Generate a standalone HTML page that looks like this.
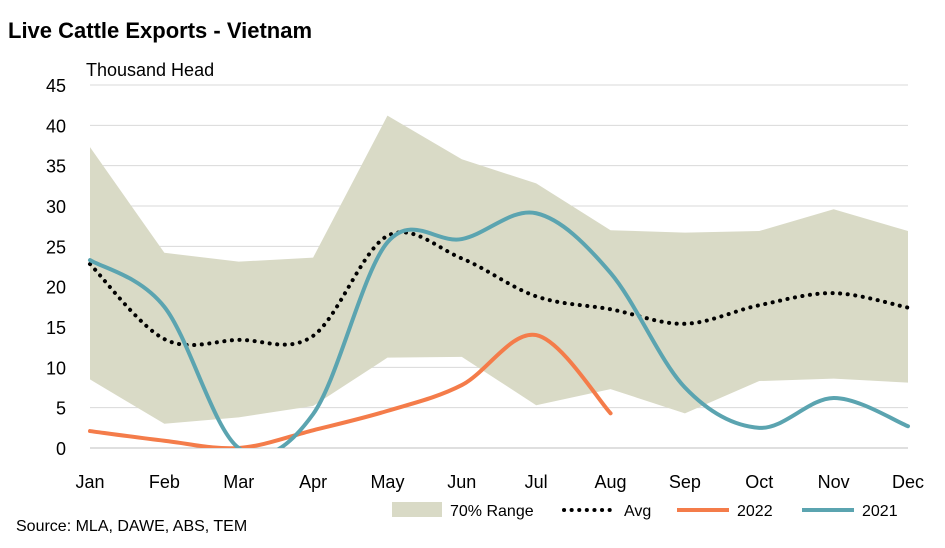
<!DOCTYPE html>
<html><head><meta charset="utf-8"><style>
body{margin:0;background:#fff;font-family:"Liberation Sans",Arial,sans-serif;}
svg text{font-family:"Liberation Sans",Arial,sans-serif;fill:#000;}
</style></head><body>
<svg id="chart" width="945" height="543">
<defs><clipPath id="plotclip"><rect x="60" y="60" width="880" height="388"/></clipPath></defs>
<text x="8" y="38" font-size="22" font-weight="bold">Live Cattle Exports - Vietnam</text>
<text x="86" y="76" font-size="18">Thousand Head</text>
<g id="grid"></g><g id="yticks"></g><g id="xticks"></g>
<g id="series" clip-path="url(#plotclip)"></g>
<text x="16" y="531" font-size="16">Source: MLA, DAWE, ABS, TEM</text>
<g id="legend"></g>
</svg>
<script>
const months=["Jan","Feb","Mar","Apr","May","Jun","Jul","Aug","Sep","Oct","Nov","Dec"];
const yTicks=[0,5,10,15,20,25,30,35,40,45];
const rangeUpper=[37.3,24.2,23.1,23.6,41.2,35.8,32.8,27,26.7,26.9,29.6,26.9];
const rangeLower=[8.5,3,3.8,5.2,11.2,11.3,5.3,7.3,4.3,8.3,8.6,8.1];
const avg=[22.8,13.5,13.4,13.9,26.3,23.5,18.8,17.2,15.4,17.7,19.2,17.4];
const s2022=[2.1,0.9,0,2.2,4.6,7.8,14,4.3];
const s2021=[23.3,17.5,0,4.2,25.5,25.9,29.1,21.7,7.5,2.5,6.2,2.7];
const NS="http://www.w3.org/2000/svg";
const x=i=>90+i*(908-90)/11;
const y=v=>448-v*(448-85)/45;
function mk(tag,attrs,parent){const e=document.createElementNS(NS,tag);for(const k in attrs)e.setAttribute(k,attrs[k]);document.getElementById(parent).appendChild(e);return e;}
yTicks.forEach(t=>{
  if(t>0){const g=mk('line',{x1:90,x2:908,y1:y(t),y2:y(t),stroke:'#d9d9d9','stroke-width':1},'grid');
  
  }
  const tx=mk('text',{x:66,y:y(t)+7,'font-size':18,'text-anchor':'end'},'yticks');tx.textContent=t;
  
  
});
const ax=mk('line',{x1:90,x2:908,y1:448,y2:448,stroke:'#bfbfbf','stroke-width':1},'grid');


months.forEach((m,i)=>{const t=mk('text',{x:x(i),y:488,'font-size':18,'text-anchor':'middle'},'xticks');t.textContent=m;
  
  });
// range area
let d='M'+rangeUpper.map((v,i)=>x(i)+','+y(v)).join('L');
for(let i=rangeLower.length-1;i>=0;i--)d+='L'+x(i)+','+y(rangeLower[i]);
const area=mk('path',{d:d+'Z',fill:'#d9dac6'},'series');


function smooth(vals){const p=vals.map((v,i)=>[x(i),y(v)]);let s='M'+p[0][0]+','+p[0][1];const k=0.5/3*2;
  for(let i=0;i<p.length-1;i++){const p0=p[i-1]||p[i],p1=p[i],p2=p[i+1],p3=p[i+2]||p2;
    const c1=[p1[0]+(p2[0]-p0[0])*k/2,p1[1]+(p2[1]-p0[1])*k/2],c2=[p2[0]-(p3[0]-p1[0])*k/2,p2[1]-(p3[1]-p1[1])*k/2];
    s+='C'+c1+' '+c2+' '+p2;}return s;}
const a=mk('path',{d:smooth(avg),fill:'none',stroke:'#000','stroke-width':4,'stroke-dasharray':'0.1 7.5','stroke-linecap':'round'},'series');


const l22=mk('path',{d:smooth(s2022),fill:'none',stroke:'#f47c4a','stroke-width':4,'stroke-linecap':'round'},'series');


const l21=mk('path',{d:smooth(s2021),fill:'none',stroke:'#5ba4b0','stroke-width':4,'stroke-linecap':'round'},'series');


// legend
const lg=[['70% Range','area',392],['Avg','dot',564],['2022','#f47c4a',677],['2021','#5ba4b0',802]];
lg.forEach(([lab,type,lx])=>{
  let sw;
  if(type==='area')sw=mk('rect',{x:lx,y:502,width:50,height:15,fill:'#d9dac6'},'legend');
  else if(type==='dot')sw=mk('line',{x1:lx,x2:lx+52,y1:510,y2:510,stroke:'#000','stroke-width':4,'stroke-dasharray':'0.1 7.5','stroke-linecap':'round'},'legend');
  else sw=mk('line',{x1:lx,x2:lx+52,y1:510,y2:510,stroke:type,'stroke-width':4},'legend');
  
  
  const t=mk('text',{x:lx+(type==='area'?58:60),y:516,'font-size':16},'legend');t.textContent=lab;
  
  
});
</script>
</body></html>
